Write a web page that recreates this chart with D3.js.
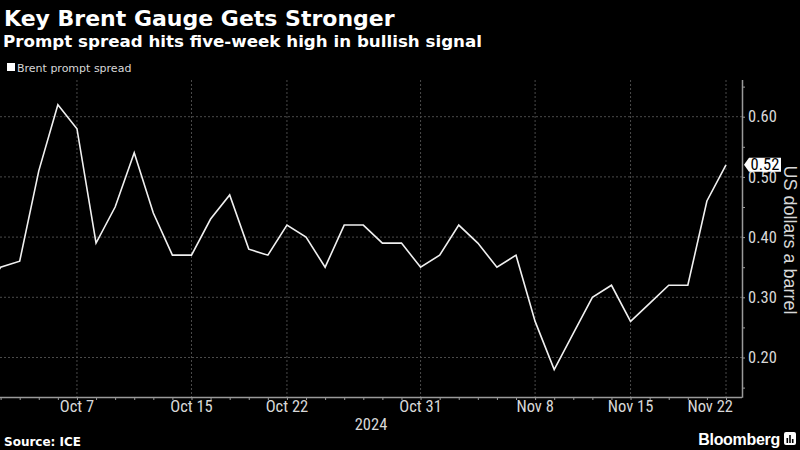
<!DOCTYPE html>
<html>
<head>
<meta charset="utf-8">
<script src="https://cdn.jsdelivr.net/npm/d3@7"></script>
<style>
  html, body { margin: 0; padding: 0; background: #000; }
  svg { display: block; }
</style>
</head>
<body>
<svg id="chart" width="800" height="450"></svg>
<script>
// ---- data ----
const title = "Key Brent Gauge Gets Stronger";
const subtitle = "Prompt spread hits five-week high in bullish signal";
const seriesName = "Brent prompt spread";
const yAxisTitle = "US dollars a barrel";
const sourceText = "Source: ICE";
const yearLabel = "2024";

// business days (trading days)
const dates = [
  "2024-09-30",
  "2024-10-01","2024-10-02","2024-10-03","2024-10-04",
  "2024-10-07","2024-10-08","2024-10-09","2024-10-10","2024-10-11",
  "2024-10-14","2024-10-15","2024-10-16","2024-10-17","2024-10-18",
  "2024-10-21","2024-10-22","2024-10-23","2024-10-24","2024-10-25",
  "2024-10-28","2024-10-29","2024-10-30","2024-10-31","2024-11-01",
  "2024-11-04","2024-11-05","2024-11-06","2024-11-07","2024-11-08",
  "2024-11-11","2024-11-12","2024-11-13","2024-11-14","2024-11-15",
  "2024-11-18","2024-11-19","2024-11-20","2024-11-21","2024-11-22"
];
const values = [
  0.30,
  0.35,0.36,0.51,0.62,
  0.58,0.39,0.45,0.54,0.44,
  0.37,0.37,0.43,0.47,0.38,
  0.37,0.42,0.40,0.35,0.42,
  0.42,0.39,0.39,0.35,0.37,
  0.42,0.39,0.35,0.37,0.26,
  0.18,0.24,0.30,0.32,0.26,
  0.29,0.32,0.32,0.46,0.52
];
const xTickDates = ["2024-10-07","2024-10-15","2024-10-22","2024-10-31","2024-11-08","2024-11-15","2024-11-22"];
const xTickLabels = ["Oct 7","Oct 15","Oct 22","Oct 31","Nov 8","Nov 15","Nov 22"];
const yMajorTicks = [0.2, 0.3, 0.4, 0.5, 0.6];
const yMinorTicks = [0.15, 0.25, 0.35, 0.45, 0.55, 0.65];
const lastValueLabel = "0.52";

// ---- layout ----
const plotLeft = 0, plotRight = 742, plotTop = 80, plotBottom = 397;
const svg = d3.select("#chart");
svg.append("rect").attr("width", 800).attr("height", 450).attr("fill", "#000");

const data = dates.map((d, i) => ({ date: d, idx: i, value: values[i] }));
const idxOf = d => dates.indexOf(d);

const x = d3.scaleLinear().domain([1, dates.length - 1]).range([0.6, 726]);
const y = d3.scaleLinear().domain([0.2, 0.6]).range([357.5, 116.7]);

const textFont = "'Liberation Sans Narrow', 'Roboto Condensed', 'Liberation Sans', sans-serif";
const gridColor = "#4a4a4a";

// gridlines
const grid = svg.append("g");
grid.selectAll("line.h").data(yMajorTicks).join("line")
  .attr("x1", plotLeft).attr("x2", plotRight)
  .attr("y1", d => y(d)).attr("y2", d => y(d))
  .attr("stroke", gridColor).attr("stroke-width", 1).attr("stroke-dasharray", "2,2");
grid.selectAll("line.v").data(xTickDates).join("line")
  .attr("x1", d => x(idxOf(d))).attr("x2", d => x(idxOf(d)))
  .attr("y1", plotTop).attr("y2", plotBottom)
  .attr("stroke", gridColor).attr("stroke-width", 1).attr("stroke-dasharray", "2,2");

// clip
svg.append("clipPath").attr("id", "clip").append("rect")
  .attr("x", plotLeft).attr("y", plotTop).attr("width", plotRight - plotLeft).attr("height", plotBottom - plotTop);

// line
const line = d3.line().x(d => x(d.idx)).y(d => y(d.value));
svg.append("path").datum(data)
  .attr("clip-path", "url(#clip)")
  .attr("d", line).attr("fill", "none")
  .attr("stroke", "#f0f0f0").attr("stroke-width", 1.6).attr("stroke-linejoin", "miter");

// x axis
const xAxisG = svg.append("g").attr("transform", `translate(0,${plotBottom})`);
xAxisG.call(d3.axisBottom(x).tickValues(d3.range(1, dates.length)).tickSize(3).tickFormat(""));
xAxisG.select(".domain").attr("d", `M${plotLeft},0.5H${plotRight}`).attr("stroke", "#9a9a9a").attr("stroke-width", 1.5);
xAxisG.selectAll(".tick line").attr("stroke", "#9a9a9a");
xAxisG.selectAll("text.lbl").data(xTickDates).join("text")
  .attr("class", "lbl")
  .attr("x", (d, i) => i === xTickDates.length - 1 ? x(idxOf(d)) + 7 : x(idxOf(d)))
  .attr("y", 15)
  .attr("text-anchor", (d, i) => i === xTickDates.length - 1 ? "end" : "middle")
  .attr("fill", "#d8d8d8").attr("font-family", textFont).attr("font-size", 16.5)
  .text((d, i) => xTickLabels[i]);
svg.append("text").attr("x", 371).attr("y", 430).attr("text-anchor", "middle")
  .attr("fill", "#d8d8d8").attr("font-family", textFont).attr("font-size", 16.5).text(yearLabel);

// y axis
const yAxisG = svg.append("g").attr("transform", `translate(${plotRight},0)`);
yAxisG.call(d3.axisRight(y).tickValues(yMajorTicks.concat(yMinorTicks)).tickSize(3)
  .tickFormat(d => yMajorTicks.some(t => Math.abs(t - d) < 1e-9) ? d3.format(".2f")(d) : ""));
yAxisG.select(".domain").attr("d", `M0.5,${plotTop}V${plotBottom + 0.75}`).attr("stroke", "#9a9a9a").attr("stroke-width", 1.5);
yAxisG.selectAll(".tick line").attr("stroke", "#9a9a9a");
yAxisG.selectAll(".tick text").attr("x", 6).attr("fill", "#d8d8d8")
  .attr("font-family", textFont).attr("font-size", 16.5);

// last value label
const lv = values[values.length - 1];
const ly = y(lv);
const lbl = svg.append("g").attr("transform", `translate(${plotRight + 2},${ly})`);
lbl.append("path").attr("d", "M0,0 L5,-7 H37 V7 H5 Z").attr("fill", "#ffffff");
lbl.append("text").attr("x", 21).attr("y", 5.5).attr("text-anchor", "middle")
  .attr("fill", "#000").attr("font-family", textFont).attr("font-size", 16.5).text(lastValueLabel);

// y axis title
svg.append("text").attr("transform", `translate(784,240) rotate(90)`)
  .attr("text-anchor", "middle").attr("fill", "#d8d8d8")
  .attr("font-family", "'Liberation Sans', Arial, sans-serif").attr("font-size", 18).text(yAxisTitle);

// title & subtitle
svg.append("text").attr("x", 4).attr("y", 26).attr("fill", "#fff")
  .attr("font-family", "'DejaVu Sans', sans-serif").attr("font-weight", "bold").attr("font-size", 22).text(title);
svg.append("text").attr("x", 3).attr("y", 47).attr("fill", "#fff")
  .attr("font-family", "'DejaVu Sans', sans-serif").attr("font-weight", "bold").attr("font-size", 16.7).text(subtitle);

// legend
svg.append("rect").attr("x", 7).attr("y", 63).attr("width", 8).attr("height", 8).attr("fill", "#fff");
svg.append("text").attr("x", 17).attr("y", 72).attr("fill", "#d8d8d8")
  .attr("font-family", "'DejaVu Sans', sans-serif").attr("font-size", 11).text(seriesName);

// source
svg.append("text").attr("x", 4).attr("y", 446).attr("fill", "#fff")
  .attr("font-family", "'DejaVu Sans', sans-serif").attr("font-weight", "bold").attr("font-size", 12).text(sourceText);

// Bloomberg logo text
svg.append("text").attr("x", 780).attr("y", 445).attr("text-anchor", "end").attr("fill", "#fff")
  .attr("font-family", "'Liberation Sans', Arial, sans-serif").attr("font-weight", "bold").attr("font-size", 16)
  .attr("letter-spacing", -0.3).text("Bloomberg");
const logo = svg.append("g").attr("transform", "translate(784,432)");
logo.append("rect").attr("width", 12).attr("height", 13).attr("rx", 2).attr("fill", "#fff");
logo.selectAll("rect.bar").data([5, 8, 4]).join("rect").attr("class", "bar")
  .attr("x", (d, i) => 2.5 + i * 2.7).attr("y", d => 11 - d).attr("width", 1.6).attr("height", d => d).attr("fill", "#000");
</script>
</body>
</html>
